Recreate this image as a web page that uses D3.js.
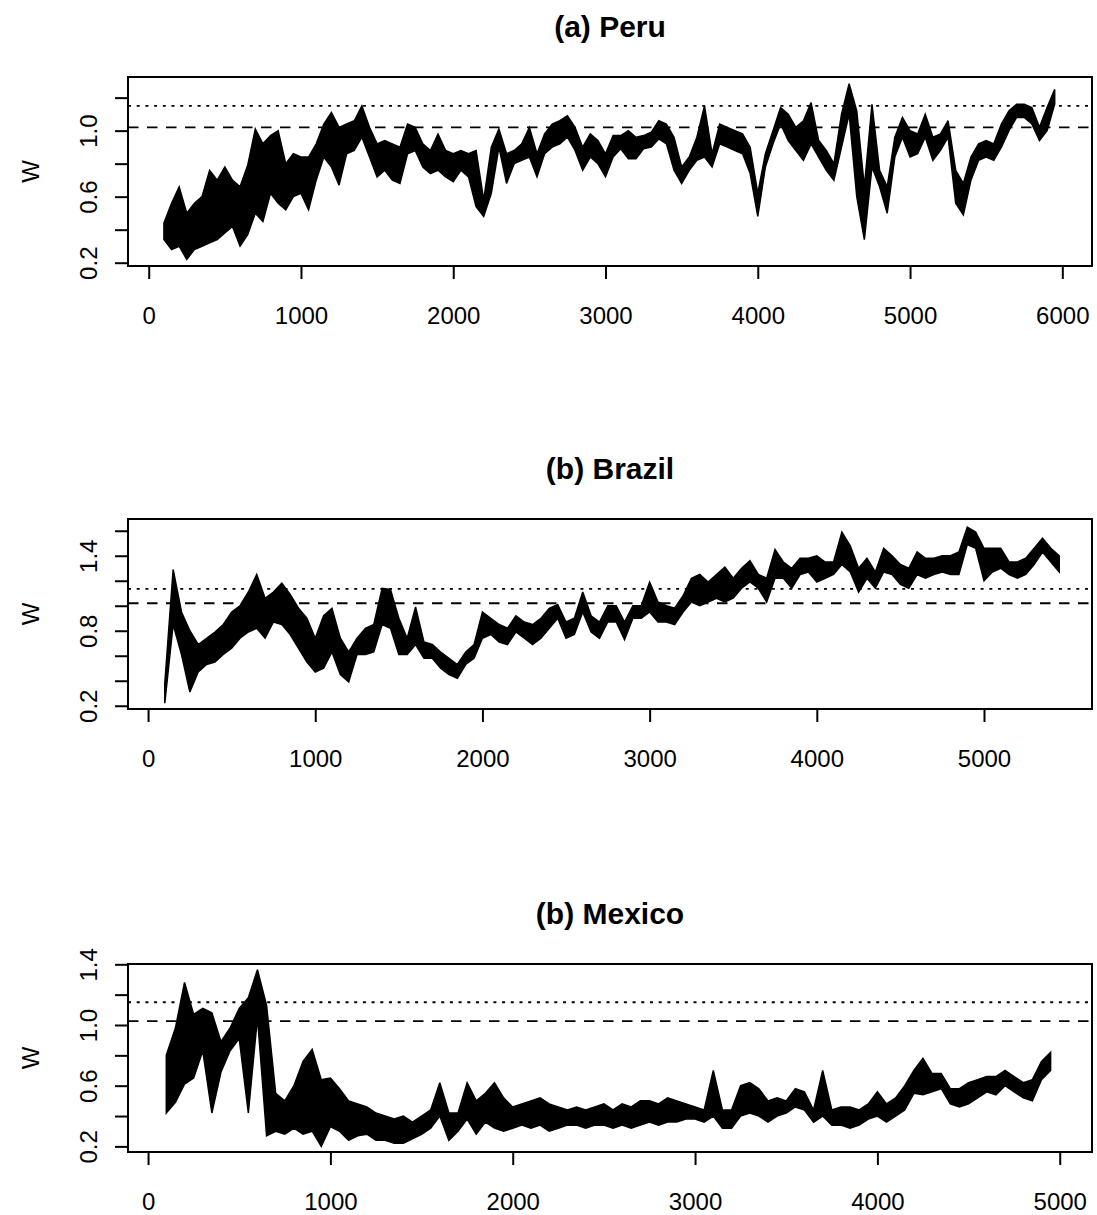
<!DOCTYPE html>
<html>
<head>
<meta charset="utf-8">
<script src="https://cdnjs.cloudflare.com/ajax/libs/d3/7.8.5/d3.min.js"></script>
<style>
body { margin: 0; background: #fff; }
svg text { font-family: 'Liberation Sans', Arial, sans-serif; fill: #000; }
</style>
</head>
<body>
<div id="chart"></div>
<script>

var step = 50

var titles = ['(a) Peru', '(b) Brazil', '(b) Mexico']
var yTitle = 'W'

// (a) Peru
var peruStart = 100
var peruLo = [
  0.34, 0.28, 0.30, 0.22, 0.28, 0.30, 0.32, 0.34, 0.38, 0.42,
  0.30, 0.37, 0.50, 0.45, 0.62, 0.56, 0.52, 0.60, 0.62, 0.52,
  0.70, 0.84, 0.78, 0.67, 0.86, 0.88, 0.96, 0.84, 0.72, 0.76,
  0.70, 0.68, 0.86, 0.88, 0.78, 0.74, 0.76, 0.72, 0.69, 0.76,
  0.72, 0.54, 0.48, 0.62, 0.90, 0.68, 0.80, 0.82, 0.84, 0.72,
  0.86, 0.90, 0.92, 0.96, 0.88, 0.76, 0.84, 0.80, 0.72, 0.84,
  0.89, 0.83, 0.83, 0.89, 0.90, 0.95, 0.92, 0.76, 0.68, 0.76,
  0.82, 0.84, 0.78, 0.92, 0.90, 0.88, 0.86, 0.74, 0.48, 0.78,
  0.92, 1.04, 0.94, 0.88, 0.82, 0.92, 0.84, 0.76, 0.70, 0.90,
  1.10, 0.60, 0.34, 0.78, 0.66, 0.50, 0.84, 0.96, 0.84, 0.86,
  0.96, 0.82, 0.88, 0.96, 0.56, 0.49, 0.70, 0.82, 0.84, 0.82,
  0.90, 1.00, 1.08, 1.08, 1.04, 0.94, 1.00, 1.16
]
var peruHi = [
  0.44, 0.56, 0.66, 0.50, 0.56, 0.60, 0.76, 0.70, 0.78, 0.70,
  0.66, 0.79, 1.01, 0.92, 0.97, 1.00, 0.80, 0.86, 0.84, 0.84,
  0.92, 1.04, 1.11, 1.02, 1.04, 1.06, 1.15, 1.02, 0.92, 0.94,
  0.92, 0.90, 1.04, 1.02, 0.92, 0.88, 0.98, 0.88, 0.86, 0.88,
  0.86, 0.88, 0.58, 0.90, 1.01, 0.86, 0.88, 0.92, 1.02, 0.86,
  0.98, 1.04, 1.06, 1.09, 1.02, 0.90, 0.98, 0.94, 0.86, 0.97,
  0.97, 1.00, 0.96, 0.97, 0.99, 1.06, 1.04, 0.96, 0.78, 0.84,
  0.96, 1.15, 0.86, 1.04, 1.02, 1.00, 0.98, 0.90, 0.62, 0.86,
  1.00, 1.14, 1.10, 1.02, 1.06, 1.17, 0.94, 0.88, 0.80, 1.10,
  1.285, 1.12, 0.66, 1.16, 0.76, 0.66, 0.96, 1.08, 1.00, 0.98,
  1.10, 0.96, 0.98, 1.06, 0.76, 0.68, 0.84, 0.92, 0.94, 0.92,
  1.04, 1.12, 1.16, 1.16, 1.14, 1.02, 1.14, 1.25
]
var peruXlim = [-136, 6195]
var peruYlim = [0.180, 1.325]
var peruXTicks = [0, 1000, 2000, 3000, 4000, 5000, 6000]
var peruYTicks = [0.2, 0.4, 0.6, 0.8, 1.0, 1.2]
var peruYLabels = [0.2, 0.6, 1.0]
var peruLines = [1.02, 1.15]

// (b) Brazil
var brazilStart = 100
var brazilLo = [
  0.22, 0.85, 0.61, 0.31, 0.47, 0.53, 0.55, 0.61, 0.66, 0.74,
  0.79, 0.82, 0.74, 0.87, 0.85, 0.77, 0.66, 0.55, 0.47, 0.50,
  0.63, 0.45, 0.39, 0.61, 0.61, 0.63, 0.85, 0.82, 0.61, 0.61,
  0.69, 0.58, 0.58, 0.50, 0.45, 0.42, 0.53, 0.58, 0.74, 0.77,
  0.71, 0.69, 0.79, 0.74, 0.69, 0.74, 0.82, 0.90, 0.74, 0.77,
  0.95, 0.79, 0.74, 0.87, 0.87, 0.73, 0.90, 0.90, 0.95, 0.87,
  0.87, 0.85, 0.95, 1.03, 1.00, 1.03, 1.06, 1.03, 1.06, 1.14,
  1.19, 1.14, 1.03, 1.22, 1.22, 1.14, 1.25, 1.27, 1.19, 1.22,
  1.25, 1.33, 1.27, 1.11, 1.22, 1.14, 1.27, 1.25, 1.17, 1.14,
  1.25, 1.22, 1.25, 1.27, 1.25, 1.25, 1.49, 1.46, 1.20, 1.27,
  1.30, 1.25, 1.22, 1.25, 1.33, 1.43, 1.35, 1.27
]
var brazilHi = [
  0.38, 1.29, 0.95, 0.80, 0.69, 0.74, 0.79, 0.85, 0.95, 1.00,
  1.11, 1.25, 1.06, 1.11, 1.18, 1.09, 0.98, 0.90, 0.74, 0.92,
  0.98, 0.74, 0.63, 0.74, 0.82, 0.85, 1.14, 1.13, 0.90, 0.74,
  0.99, 0.71, 0.69, 0.63, 0.58, 0.53, 0.63, 0.69, 0.95, 0.90,
  0.85, 0.82, 0.92, 0.87, 0.85, 0.90, 0.98, 1.01, 0.87, 0.90,
  1.11, 0.92, 0.87, 1.00, 1.00, 0.87, 1.00, 1.00, 1.19, 1.03,
  1.00, 0.98, 1.08, 1.22, 1.25, 1.19, 1.25, 1.31, 1.22, 1.30,
  1.36, 1.25, 1.22, 1.45, 1.35, 1.30, 1.38, 1.38, 1.40, 1.35,
  1.35, 1.59, 1.48, 1.30, 1.38, 1.27, 1.46, 1.40, 1.33, 1.30,
  1.43, 1.38, 1.38, 1.40, 1.40, 1.43, 1.63, 1.59, 1.46, 1.46,
  1.46, 1.35, 1.35, 1.38, 1.46, 1.54, 1.46, 1.40
]
var brazilXlim = [-120, 5646]
var brazilYlim = [0.174, 1.694]
var brazilXTicks = [0, 1000, 2000, 3000, 4000, 5000]
var brazilYTicks = [0.2, 0.4, 0.6, 0.8, 1.0, 1.2, 1.4, 1.6]
var brazilYLabels = [0.2, 0.8, 1.4]
var brazilLines = [1.02, 1.135]

// (b) Mexico
var mexicoStart = 100
var mexicoLo = [
  0.42, 0.49, 0.61, 0.65, 0.83, 0.42, 0.69, 0.83, 0.91, 0.42,
  1.05, 0.27, 0.30, 0.28, 0.32, 0.28, 0.30, 0.20, 0.33, 0.30,
  0.24, 0.27, 0.28, 0.24, 0.24, 0.22, 0.22, 0.25, 0.28, 0.32,
  0.40, 0.24, 0.30, 0.38, 0.28, 0.36, 0.32, 0.30, 0.32, 0.34,
  0.32, 0.34, 0.30, 0.32, 0.34, 0.34, 0.32, 0.34, 0.34, 0.32,
  0.34, 0.32, 0.34, 0.36, 0.34, 0.36, 0.36, 0.38, 0.38, 0.36,
  0.40, 0.32, 0.32, 0.40, 0.42, 0.40, 0.36, 0.40, 0.42, 0.46,
  0.44, 0.36, 0.40, 0.34, 0.34, 0.32, 0.34, 0.38, 0.40, 0.36,
  0.40, 0.44, 0.55, 0.54, 0.56, 0.58, 0.48, 0.46, 0.48, 0.52,
  0.56, 0.54, 0.60, 0.56, 0.52, 0.50, 0.64, 0.70
]
var mexicoHi = [
  0.80, 0.98, 1.28, 1.07, 1.11, 1.08, 0.89, 0.98, 1.11, 1.18,
  1.365, 1.13, 0.55, 0.50, 0.60, 0.76, 0.84, 0.64, 0.65, 0.58,
  0.50, 0.48, 0.46, 0.42, 0.40, 0.38, 0.40, 0.36, 0.40, 0.44,
  0.62, 0.42, 0.42, 0.62, 0.50, 0.55, 0.62, 0.52, 0.46, 0.48,
  0.50, 0.52, 0.48, 0.46, 0.44, 0.46, 0.44, 0.46, 0.48, 0.44,
  0.48, 0.46, 0.50, 0.50, 0.48, 0.52, 0.50, 0.48, 0.46, 0.44,
  0.70, 0.44, 0.44, 0.60, 0.62, 0.58, 0.50, 0.52, 0.50, 0.58,
  0.56, 0.44, 0.70, 0.44, 0.46, 0.46, 0.44, 0.48, 0.56, 0.48,
  0.52, 0.60, 0.70, 0.78, 0.68, 0.68, 0.58, 0.58, 0.62, 0.64,
  0.66, 0.66, 0.70, 0.66, 0.62, 0.64, 0.76, 0.82
]
var mexicoXlim = [-110, 5177]
var mexicoYlim = [0.163, 1.402]
var mexicoXTicks = [0, 1000, 2000, 3000, 4000, 5000]
var mexicoYTicks = [0.2, 0.4, 0.6, 0.8, 1.0, 1.2, 1.4]
var mexicoYLabels = [0.2, 0.6, 1.0, 1.4]
var mexicoLines = [1.025, 1.15]


var width = 1097, height = 1215
var left = 128, right = 1092

var panels = [
  {title: titles[0], start: peruStart, lo: peruLo, hi: peruHi, xlim: peruXlim, ylim: peruYlim,
    xticks: peruXTicks, yticks: peruYTicks, ylabels: peruYLabels, lines: peruLines, top: 77, bottom: 266},
  {title: titles[1], start: brazilStart, lo: brazilLo, hi: brazilHi, xlim: brazilXlim, ylim: brazilYlim,
    xticks: brazilXTicks, yticks: brazilYTicks, ylabels: brazilYLabels, lines: brazilLines, top: 519, bottom: 709},
  {title: titles[2], start: mexicoStart, lo: mexicoLo, hi: mexicoHi, xlim: mexicoXlim, ylim: mexicoYlim,
    xticks: mexicoXTicks, yticks: mexicoYTicks, ylabels: mexicoYLabels, lines: mexicoLines, top: 964, bottom: 1152}
]

var svg = d3.select('#chart').append('svg')
  .attr('width', width).attr('height', height)

svg.append('rect').attr('width', width).attr('height', height).attr('fill', '#fff')

panels.forEach(function(p, i){
  var x = d3.scaleLinear().domain(p.xlim).range([left, right])
  var y = d3.scaleLinear().domain(p.ylim).range([p.bottom, p.top])
  var g = svg.append('g')

  g.append('clipPath').attr('id', 'clip-' + i)
    .append('rect')
    .attr('x', left).attr('y', p.top)
    .attr('width', right - left).attr('height', p.bottom - p.top)

  var pts = p.lo.map(function(d, j){
    return {t: p.start + j * step, lo: d, hi: p.hi[j]}
  })

  var area = d3.area()
    .x(function(d){ return x(d.t) })
    .y0(function(d){ return y(d.lo) })
    .y1(function(d){ return y(d.hi) })

  g.append('path')
    .attr('clip-path', 'url(#clip-' + i + ')')
    .attr('d', area(pts))
    .attr('fill', '#000')
    .attr('stroke', '#000')
    .attr('stroke-width', 1.5)
    .attr('stroke-linejoin', 'miter')
    .attr('stroke-miterlimit', 3)

  // reference lines: dashed lower, dotted upper
  g.selectAll('line.ref').data(p.lines).enter().append('line')
    .attr('class', 'ref')
    .attr('x1', left).attr('x2', right)
    .attr('y1', function(d){ return y(d) })
    .attr('y2', function(d){ return y(d) })
    .attr('stroke', '#000')
    .attr('stroke-width', 1.8)
    .attr('stroke-dasharray', function(d, k){ return k == 0 ? '10.5,8.5' : '3,5.7' })

  g.append('rect')
    .attr('x', left).attr('y', p.top)
    .attr('width', right - left).attr('height', p.bottom - p.top)
    .attr('fill', 'none').attr('stroke', '#000').attr('stroke-width', 2)

  var xAxis = d3.axisBottom(x).tickValues(p.xticks).tickSize(13).tickPadding(28)
    .tickFormat(d3.format('d'))
  var xg = g.append('g').attr('transform', 'translate(0,' + p.bottom + ')').call(xAxis)
  xg.select('.domain').remove()
  xg.selectAll('line').attr('stroke', '#000').attr('stroke-width', 2)
  xg.selectAll('text').style('font-size', '24px')

  var yAxis = d3.axisLeft(y).tickValues(p.yticks).tickSize(13)
    .tickFormat(function(d){ return p.ylabels.indexOf(d) >= 0 ? d.toFixed(1) : '' })
  var yg = g.append('g').attr('transform', 'translate(' + left + ',0)').call(yAxis)
  yg.select('.domain').remove()
  yg.selectAll('line').attr('stroke', '#000').attr('stroke-width', 2)
  yg.selectAll('text')
    .attr('x', null).attr('dy', null)
    .attr('text-anchor', 'middle')
    .attr('transform', 'translate(-31,0) rotate(-90)')
    .style('font-size', '24px')

  g.append('text')
    .attr('text-anchor', 'middle')
    .attr('x', (left + right) / 2).attr('y', p.top - 40)
    .style('font-size', '30px').style('font-weight', 'bold')
    .text(p.title)

  g.append('text')
    .attr('text-anchor', 'middle')
    .attr('transform', 'translate(39,' + (p.top + p.bottom) / 2 + ') rotate(-90)')
    .style('font-size', '24px')
    .text(yTitle)
})

</script>
</body>
</html>
